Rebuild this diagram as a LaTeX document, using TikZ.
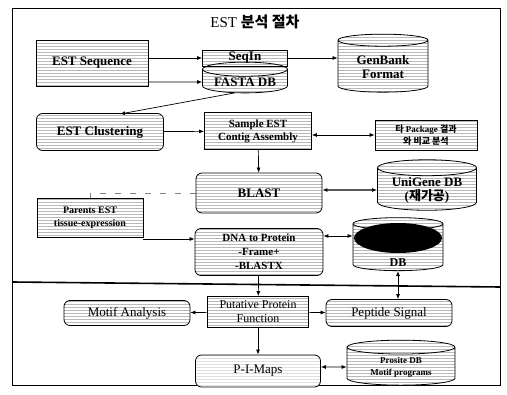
\documentclass[tikz,border=0pt]{standalone}
\usepackage{fontspec}
\setmainfont{Liberation Serif}
\newfontfamily\kr{Noto Sans CJK KR}
\usetikzlibrary{shapes.geometric,patterns,arrows.meta,calc}
\begin{document}
\begin{tikzpicture}[x=1pt,y=-1pt,
  hatch/.style={pattern=horizontal lines, pattern color=gray!55},
  box/.style={draw=black, line width=0.8pt, hatch, align=center, inner sep=1pt, font=\fontsize{13}{14}\selectfont\bfseries},
  rbox/.style={box, rounded corners=6pt},
  db/.style={draw=black, line width=0.8pt, cylinder, shape border rotate=90, aspect=0.22, hatch, align=center, inner sep=1pt, font=\fontsize{13}{14}\selectfont\bfseries},
  arr/.style={-{Latex[length=5pt,width=4pt]}, line width=0.7pt},
  darr/.style={{Latex[length=5pt,width=4pt]}-{Latex[length=5pt,width=4pt]}, line width=0.7pt},
]
\useasboundingbox (0,0) rectangle (507,395);
\draw[line width=0.9pt] (12,8) rectangle (500,385);
\draw[line width=1.6pt] (12,282) -- (500,287);
\node (title) at (255,22) {\fontsize{15}{17}\selectfont EST {\kr\bfseries 분석 절차}};

\node[box, minimum width=112pt, minimum height=46pt] (esq) at (92,63) {EST Sequence};
\node[box, minimum width=85pt, minimum height=16pt] (seqin) at (245,58) {SeqIn};
\node[db, minimum width=85pt, minimum height=24pt] (fasta) at (245,82) {FASTA DB};
\node[db, minimum width=90pt, minimum height=58pt] (genbank) at (383,67) {GenBank\\Format};

\node[rbox, minimum width=127pt, minimum height=37pt] (clust) at (100,132) {EST Clustering};
\coordinate (clustin) at (120,114);
\node[box, minimum width=107pt, minimum height=37pt, font=\fontsize{11}{13}\selectfont\bfseries] (sample) at (258,131) {Sample EST\\Contig Assembly};
\node[box, minimum width=102pt, minimum height=30pt, font=\fontsize{9}{12}\selectfont\bfseries] (pkg) at (426,135) {{\kr 타} Package {\kr 결과}\\{\kr 와 비교 분석}};

\node[rbox, minimum width=126pt, minimum height=40pt] (blast) at (259,193) {BLAST};
\node[db, minimum width=99pt, minimum height=45pt] (unigene) at (427,190) {UniGene DB\\({\kr 재가공})};

\node[box, minimum width=106pt, minimum height=39pt, font=\fontsize{10}{13}\selectfont\bfseries] (parents) at (90,218) {Parents EST\\tissue-expression};
\node[rbox, minimum width=128pt, minimum height=47pt, font=\fontsize{11}{14}\selectfont\bfseries] (dna) at (259,252) {DNA to Protein\\-Frame+\\-BLASTX};
\node[db, minimum width=90pt, minimum height=53pt] (darkdb) at (398,248) {\phantom{GenBank}\\\phantom{Format}};
\fill[black] (398,238) ellipse (44 and 15);
\node[font=\fontsize{12}{14}\selectfont\bfseries] (dblabel) at (398,263) {DB};

\node[box, minimum width=101pt, minimum height=31pt, font=\fontsize{12}{14}\selectfont] (put) at (258,312) {Putative Protein\\Function};
\node[rbox, minimum width=126pt, minimum height=25pt, font=\fontsize{13}{14}\selectfont] (motif) at (127,313) {Motif Analysis};
\node[rbox, minimum width=126pt, minimum height=27pt, font=\fontsize{13}{14}\selectfont] (pep) at (389,313) {Peptide Signal};
\node[rbox, minimum width=125pt, minimum height=32pt, font=\fontsize{13}{14}\selectfont, pattern color=gray!25] (pim) at (258,371) {P-I-Maps};
\node[db, minimum width=108pt, minimum height=45pt, font=\fontsize{9}{12}\selectfont\bfseries] (prosite) at (401,367) {Prosite DB\\Motif programs};

\draw[arr] (esq.east |- seqin) -- (seqin.west);
\draw[arr] (esq.east |- fasta) -- (fasta.west);
\draw[arr] (seqin) -- (genbank.west |- seqin);
\draw[arr] (fasta.south west) -- (clustin);
\draw[arr] (clust) -- (sample);
\draw[darr] (sample.east |- pkg) -- (pkg.west);
\draw[arr] (sample) -- (blast);
\draw[darr, line width=1.4pt] (blast.east |- unigene) -- (unigene.west);
\draw[dashed, gray, dash pattern=on 6pt off 9pt] (blast.west) -| (parents.north);
\draw[arr] (parents.east |- 0,239) -- (dna.west |- 0,239);
\draw[darr] (dna.east |- 0,236) -- (darkdb.west |- 0,236);
\draw[arr] (dna) -- (put);
\draw[arr] (put) -- (motif);
\draw[arr] (put) -- (pep);
\draw[darr] (pep.north -| darkdb) -- (darkdb.south);
\draw[arr] (put) -- (pim);
\draw[darr] (pim.east |- prosite) -- (prosite.west);
\end{tikzpicture}
\end{document}
